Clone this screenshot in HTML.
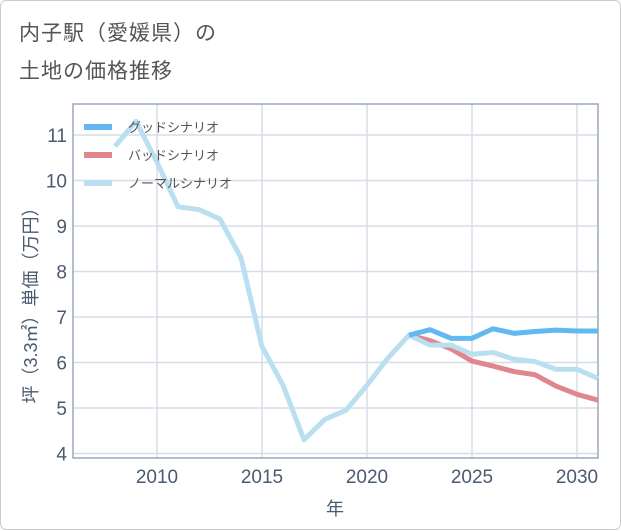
<!DOCTYPE html>
<html><head><meta charset="utf-8"><style>
body{margin:0;background:#fff;font-family:"Liberation Sans","Noto Sans CJK JP",sans-serif;}
#card{position:absolute;left:0;top:0;width:619px;height:528px;border:1px solid #ccc;border-radius:6px;background:#fff;}
.t{position:absolute;left:18px;font-size:21px;color:#555;letter-spacing:1px;}
</style></head><body>
<div id="card">
<div class="t" style="top:16px">内子駅（愛媛県）の</div>
<div class="t" style="top:54px">土地の価格推移</div>
<svg id="c" width="621" height="530" style="position:absolute;left:0;top:0"></svg>
</div>
<script>
const years=[2008,2009,2010,2011,2012,2013,2014,2015,2016,2017,2018,2019,2020,2021,2022,2023,2024,2025,2026,2027,2028,2029,2030,2031];
const normal=[10.75,11.3,10.4,9.42,9.36,9.15,8.3,6.35,5.5,4.3,4.75,4.95,5.5,6.1,6.6,6.38,6.38,6.18,6.22,6.07,6.02,5.85,5.85,5.65];
const goodYears=[2022,2023,2024,2025,2026,2027,2028,2029,2030,2031];
const good=[6.6,6.72,6.53,6.53,6.74,6.64,6.68,6.71,6.69,6.69];
const bad=[6.6,6.48,6.3,6.03,5.92,5.8,5.73,5.48,5.3,5.17];
const yTicks=[4,5,6,7,8,9,10,11];
const xTicks=[2010,2015,2020,2025,2030];
const L=72,R=597,T=103,B=457,x0=2006,x1=2031,y0=3.9,y1=11.68;
const X=v=>L+(v-x0)/(x1-x0)*(R-L), Y=v=>B-(v-y0)/(y1-y0)*(B-T);
const s=document.getElementById('c');const NS='http://www.w3.org/2000/svg';
function mk(t,a,p){const e=document.createElementNS(NS,t);for(const k in a)e.setAttribute(k,a[k]);(p||s).appendChild(e);return e;}
yTicks.forEach(v=>{const g=mk('line',{x1:L,x2:R,y1:Y(v),y2:Y(v),stroke:'#d5dde6','stroke-width':1.5});


const t=mk('text',{x:L-6,y:Y(v)+7,'text-anchor':'end','font-size':19,fill:'#4a5a70'});t.textContent=v;

});
xTicks.forEach(v=>{const g=mk('line',{x1:X(v),x2:X(v),y1:T,y2:B,stroke:'#d5dde6','stroke-width':1.5});


const t=mk('text',{x:X(v),y:B+25,'text-anchor':'middle','font-size':19,fill:'#4a5a70'});t.textContent=v;

});
const fr=mk('rect',{x:L,y:T,width:R-L,height:B-T,fill:'none',stroke:'#9aa8b8','stroke-width':1.5});


function line(xs,vs,c,n){const p=mk('polyline',{points:xs.map((x,i)=>X(x)+','+Y(vs[i])).join(' '),fill:'none',stroke:c,'stroke-width':5,'stroke-linejoin':'round'});

}
line(goodYears,bad,'#e0868e','bad-scenario-line');
line(years,normal,'#badff0','normal-scenario-line');
line(goodYears,good,'#62b8f0','good-scenario-line');
[['グッドシナリオ','#62b8f0'],['バッドシナリオ','#e0868e'],['ノーマルシナリオ','#badff0']].forEach((d,i)=>{
const y=126+i*28;const l=mk('line',{x1:83,x2:111,y1:y,y2:y,stroke:d[1],'stroke-width':6});


const t=mk('text',{x:127,y:y+5,'font-size':13,fill:'#555'});t.textContent=d[0];

});
const yt=mk('text',{x:0,y:0,transform:'translate(36,300) rotate(-90)','text-anchor':'middle','font-size':18,fill:'#4a5a70'});yt.textContent='坪（3.3㎡）単価（万円）';


const xt=mk('text',{x:334,y:514,'text-anchor':'middle','font-size':18,fill:'#4a5a70'});xt.textContent='年';


</script></body></html>
